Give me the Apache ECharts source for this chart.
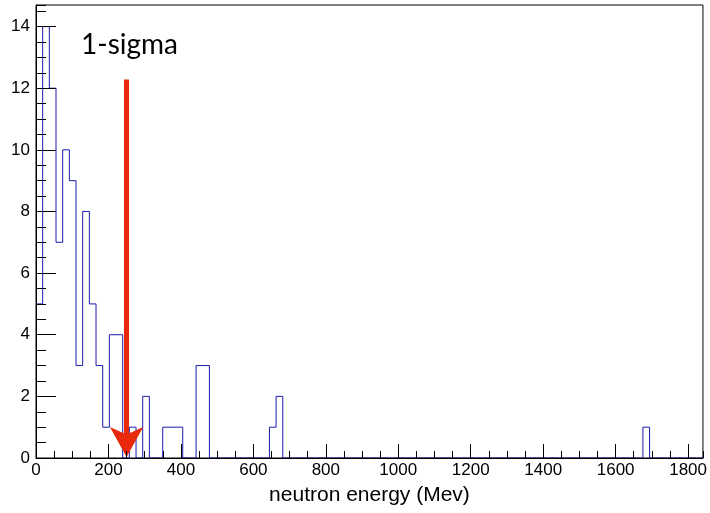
<!DOCTYPE html>
<html>
<head>
<meta charset="utf-8">
<script src="https://cdn.jsdelivr.net/npm/echarts@6/dist/echarts.min.js"></script>
<style>
html,body{margin:0;padding:0;background:#fff;}
#c{width:710px;height:513px;}
</style>
</head>
<body>
<div id="c"></div>
<script>
// histogram: 100 bins of width binWidth starting at 0
const binWidth = 18.41;
const counts = [
  5,14,12,7,10,9,3,8,5,3,
  1,4,4,0,1,0,2,0,0,1,
  1,1,0,0,3,3,0,0,0,0,
  0,0,0,0,0,1,2,0,0,0,
  0,0,0,0,0,0,0,0,0,0,
  0,0,0,0,0,0,0,0,0,0,
  0,0,0,0,0,0,0,0,0,0,
  0,0,0,0,0,0,0,0,0,0,
  0,0,0,0,0,0,0,0,0,0,
  0,1,0,0,0,0,0,0,0,0
];
const xTicks = [0,200,400,600,800,1000,1200,1400,1600,1800];
const yTicks = [0,2,4,6,8,10,12,14];
const arrowX = 250;
const arrowTop = 12.28;
const arrowShaftEnd = 0.7;
const arrowTip = 0.03;
const annotation = '1-sigma';
const xTitle = 'neutron energy (Mev)';

const xMax = binWidth * counts.length;
const yMax = 14.7;

const stepData = [];
counts.forEach((c, i) => stepData.push([i * binWidth, c]));
stepData.push([counts.length * binWidth, counts[counts.length - 1]]);

const labelFont = {fontFamily: 'Liberation Sans, Arial, sans-serif', fontSize: 17, color: '#000'};

const chart = echarts.init(document.getElementById('c'), null, {renderer: 'canvas'});
chart.setOption({
  animation: false,
  backgroundColor: '#fff',
  grid: {left: 36, right: 6, top: 5, bottom: 55, show: true, borderColor: '#000', borderWidth: 1, backgroundColor: 'transparent'},
  xAxis: [
    {
      type: 'value', min: 0, max: xMax, interval: 200, z: 5,
      axisLine: {show: true, lineStyle: {color: '#000', width: 1}},
      axisTick: {show: true, inside: true, length: 14, lineStyle: {color: '#000'}},
      axisLabel: Object.assign({margin: 4, showMaxLabel: false, formatter: v => xTicks.includes(v) ? String(v) : ''}, labelFont),
      splitLine: {show: false},
      name: xTitle, nameLocation: 'middle', nameGap: 27,
      nameTextStyle: {fontFamily: 'Liberation Sans, Arial, sans-serif', fontSize: 21, color: '#000'}
    },
    {
      type: 'value', min: 0, max: xMax, interval: 50, position: 'bottom', z: 5,
      axisLine: {show: false},
      axisTick: {show: true, inside: true, length: 7, lineStyle: {color: '#000'}},
      axisLabel: {show: false},
      splitLine: {show: false}
    }
  ],
  yAxis: [
    {
      type: 'value', min: 0, max: yMax, interval: 2, z: 5,
      axisLine: {show: true, lineStyle: {color: '#000', width: 1}},
      axisTick: {show: true, inside: true, length: 20, lineStyle: {color: '#000'}},
      axisLabel: Object.assign({margin: 6, showMaxLabel: false, formatter: v => yTicks.includes(v) ? String(v) : ''}, labelFont),
      splitLine: {show: false}
    },
    {
      type: 'value', min: 0, max: yMax, interval: 0.5, position: 'left', z: 5,
      axisLine: {show: false},
      axisTick: {show: true, inside: true, length: 10, lineStyle: {color: '#000'}},
      axisLabel: {show: false},
      splitLine: {show: false}
    }
  ],
  graphic: [{
    type: 'text', left: 81, top: 31, z: 10,
    style: {text: annotation, font: '28px Lato, "Open Sans", sans-serif', fill: '#000'}
  }],
  series: [
    {
      type: 'line', step: 'end', xAxisIndex: 0, yAxisIndex: 0,
      data: stepData, showSymbol: false, symbol: 'none',
      lineStyle: {color: '#1a1ab0', width: 1},
      z: 2,
      markLine: {
        silent: true, animation: false,
        label: {show: false},
        lineStyle: {color: '#e8290b', width: 5, type: 'solid'},
        data: [
          [
            {coord: [arrowX, arrowTop], symbol: 'none'},
            {coord: [arrowX, arrowShaftEnd], symbol: 'none'}
          ],
          [
            {coord: [arrowX, arrowShaftEnd], symbol: 'none', lineStyle: {width: 0.01}},
            {coord: [arrowX, arrowTip], symbol: 'arrow', symbolSize: [25, 30], lineStyle: {width: 0.01}}
          ]
        ]
      }
    }
  ]
});
</script>
</body>
</html>
